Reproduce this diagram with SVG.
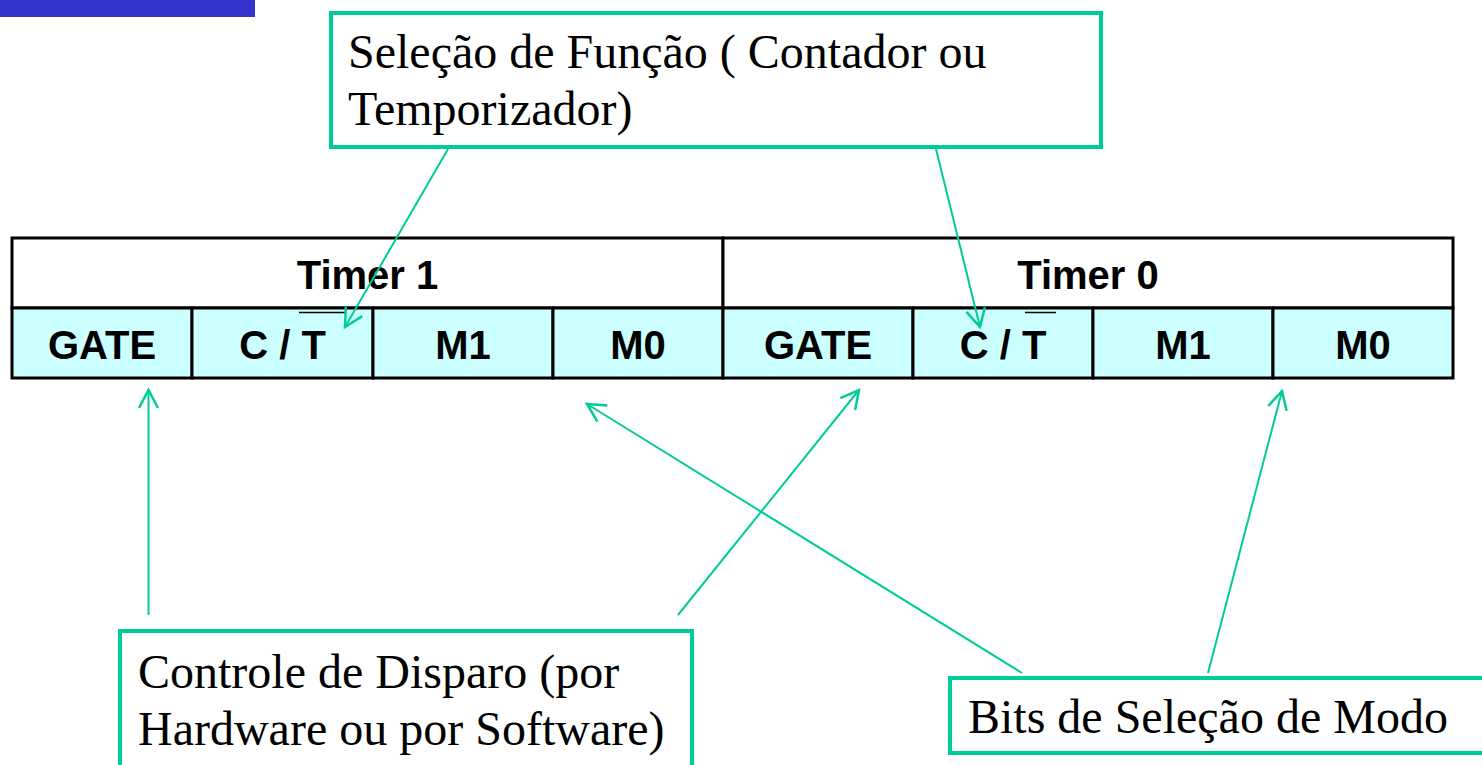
<svg xmlns="http://www.w3.org/2000/svg" width="1482" height="765" viewBox="0 0 1482 765">
<style>
.cell{fill:#CCFFFF;stroke:#000;stroke-width:3}
.hdr{fill:#FFFFFF;stroke:#000;stroke-width:3}
.bt{font-family:"Liberation Sans",Arial,sans-serif;font-weight:bold;font-size:40px;fill:#000;text-anchor:middle}
.note{fill:#FFFFFF;stroke:#00CC99;stroke-width:4}
.nt{font-family:"Liberation Serif","Times New Roman",serif;font-size:48px;fill:#000}
.conn{stroke:#00CC99;stroke-width:2;fill:none;marker-end:url(#arr)}
.ov{stroke:#000;stroke-width:1.5}
</style>
<defs>
<marker id="arr" markerUnits="userSpaceOnUse" markerWidth="40" markerHeight="40" refX="0" refY="0" viewBox="-20 -20 40 40" orient="auto" overflow="visible">
<path d="M-18,-9.5 L0,0 L-18,9.5" fill="none" stroke="#00CC99" stroke-width="2.5"/>
</marker>
</defs>
<rect x="0" y="0" width="255" height="17" fill="#3333CC"/>
<g id="table">
<g id="timer1-header"><rect class="hdr" x="12" y="238" width="711" height="70"/><text class="bt" x="367.5" y="289">Timer 1</text></g>
<g id="timer0-header"><rect class="hdr" x="723" y="238" width="730" height="70"/><text class="bt" x="1088" y="289">Timer 0</text></g>
<g id="t1-gate"><rect class="cell" x="12" y="308" width="180" height="70"/><text class="bt" x="102" y="359">GATE</text></g>
<g id="t1-ct"><rect class="cell" x="192" y="308" width="181" height="70"/><text class="bt" x="282.5" y="359">C / T</text><line class="ov" x1="299" y1="312.5" x2="345" y2="312.5"/></g>
<g id="t1-m1"><rect class="cell" x="373" y="308" width="180" height="70"/><text class="bt" x="463" y="359">M1</text></g>
<g id="t1-m0"><rect class="cell" x="553" y="308" width="170" height="70"/><text class="bt" x="638" y="359">M0</text></g>
<g id="t0-gate"><rect class="cell" x="723" y="308" width="190" height="70"/><text class="bt" x="818" y="359">GATE</text></g>
<g id="t0-ct"><rect class="cell" x="913" y="308" width="180" height="70"/><text class="bt" x="1003" y="359">C / T</text><line class="ov" x1="1025" y1="312.5" x2="1056" y2="312.5"/></g>
<g id="t0-m1"><rect class="cell" x="1093" y="308" width="180" height="70"/><text class="bt" x="1183" y="359">M1</text></g>
<g id="t0-m0"><rect class="cell" x="1273" y="308" width="180" height="70"/><text class="bt" x="1363" y="359">M0</text></g>
</g>
<g id="note-funcao"><rect class="note" x="331" y="13" width="770" height="134"/><text class="nt" x="348" y="68">Seleção de Função ( Contador ou</text><text class="nt" x="348" y="125">Temporizador)</text></g>
<g id="note-disparo"><rect class="note" x="120" y="631" width="572" height="150"/><text class="nt" x="138" y="688">Controle de Disparo (por</text><text class="nt" x="138" y="745">Hardware ou por Software)</text></g>
<g id="note-modo"><rect class="note" x="950" y="678" width="560" height="75"/><text class="nt" x="968" y="733">Bits de Seleção de Modo</text></g>
<g id="connectors">
<line class="conn" x1="448" y1="149" x2="345" y2="327"/>
<line class="conn" x1="936" y1="149" x2="980" y2="327"/>
<line class="conn" x1="148.5" y1="615" x2="148.5" y2="390"/>
<line class="conn" x1="678" y1="615" x2="859" y2="390"/>
<line class="conn" x1="1022" y1="673" x2="587" y2="404"/>
<line class="conn" x1="1208" y1="673" x2="1282" y2="391"/>
</g>
</svg>
